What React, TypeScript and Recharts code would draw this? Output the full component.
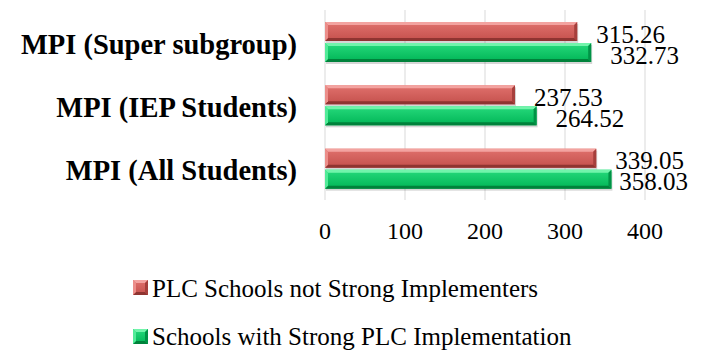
import { BarChart, Bar, XAxis, YAxis, CartesianGrid, LabelList } from "recharts";

const categories = ["MPI (Super subgroup)", "MPI (IEP Students)", "MPI (All Students)"];
const notStrongScores = [315.26, 237.53, 339.05];
const strongScores = [332.73, 264.52, 358.03];
const xTicks = [0, 100, 200, 300, 400];

const SERIF = "'Liberation Serif', 'Times New Roman', serif";

type Tone = "red" | "green";

const palettes: Record<Tone, { hi: string; lo: string; top: string; bottom: string; left: string; right: string }> = {
  red: { hi: "#e0716d", lo: "#c4504c", top: "#f3a3a0", bottom: "#8f3431", left: "#ec8e8a", right: "#a63f3c" },
  green: { hi: "#27da7c", lo: "#00b556", top: "#72f4ab", bottom: "#00823b", left: "#52eb98", right: "#009346" },
};

const series: { key: "notStrong" | "strong"; name: string; tone: Tone }[] = [
  { key: "notStrong", name: "PLC Schools not Strong Implementers", tone: "red" },
  { key: "strong", name: "Schools with Strong PLC Implementation", tone: "green" },
];

const data = categories.map((name, i) => ({
  name,
  notStrong: notStrongScores[i],
  strong: strongScores[i],
}));

// beveled "3D" block used for bars and legend swatches
function Bevel({ x, y, w, h, tone, b = 3, shadow = true }: { x: number; y: number; w: number; h: number; tone: Tone; b?: number; shadow?: boolean }) {
  const p = palettes[tone];
  const id = `grad-${tone}`;
  return (
    <g>
      <defs>
        <linearGradient id={id} x1="0" y1="0" x2="0" y2="1">
          <stop offset="0%" stopColor={p.hi} />
          <stop offset="100%" stopColor={p.lo} />
        </linearGradient>
      </defs>
      {shadow && <rect x={x + 1} y={y + 2} width={w} height={h} fill="#000" opacity={0.16} />}
      <rect x={x} y={y} width={w} height={h} fill={`url(#${id})`} />
      <polygon points={`${x},${y} ${x + w},${y} ${x + w - b},${y + b} ${x + b},${y + b}`} fill={p.top} />
      <polygon points={`${x},${y + h} ${x + w},${y + h} ${x + w - b},${y + h - b} ${x + b},${y + h - b}`} fill={p.bottom} />
      <polygon points={`${x + w},${y} ${x + w},${y + h} ${x + w - b},${y + h - b} ${x + w - b},${y + b}`} fill={p.right} />
      <polygon points={`${x},${y} ${x + b},${y + b} ${x + b},${y + h - b} ${x},${y + h}`} fill={p.left} />
    </g>
  );
}

const makeBarShape = (tone: Tone) => (props: any) => {
  const { x, y, width, height } = props;
  if (!width || width <= 0) return <g />;
  return <Bevel x={x} y={y} w={width} h={height} tone={tone} />;
};

const ValueLabel = (props: any) => {
  const { x, y, width, height, value } = props;
  const text = Number(value).toFixed(2);
  // keep the label inside the right edge
  const textWidth = text.length * 12.5 - 6.25;
  const tx = Math.min(x + width + 19, 688 - textWidth);
  return (
    <text x={tx} y={y + height / 2 + 11} fontFamily={SERIF} fontSize={25} fill="#000">
      {text}
    </text>
  );
};

const CategoryTick = ({ x, y, payload }: any) => (
  <text x={x} y={y + 12} textAnchor="end" fontFamily={SERIF} fontSize={28.5} fontWeight={700} fill="#000">
    {payload.value}
  </text>
);

const ValueTick = ({ x, y, payload }: any) => (
  <text x={x} y={y + 39} textAnchor="middle" fontFamily={SERIF} fontSize={24} fill="#000">
    {payload.value}
  </text>
);

export default function App() {
  return (
    <div style={{ position: "absolute", left: 0, top: 0, width: 704, height: 352, background: "#fff" }}>
      <BarChart
        width={704}
        height={352}
        data={data}
        layout="vertical"
        margin={{ top: 10, right: 59, bottom: 122, left: 0 }}
        barSize={19}
        barGap={2}
      >
        <CartesianGrid horizontal={false} stroke="#d9d9d9" />
        <XAxis
          type="number"
          domain={[0, 400]}
          ticks={xTicks}
          axisLine={false}
          tickLine={false}
          tickSize={0}
          tickMargin={0}
          height={30}
          tick={<ValueTick />}
        />
        <YAxis
          type="category"
          dataKey="name"
          width={325}
          axisLine={false}
          tickLine={false}
          tickSize={0}
          tickMargin={28}
          tick={<CategoryTick />}
        />
        {series.map((s) => (
          <Bar key={s.key} dataKey={s.key} name={s.name} shape={makeBarShape(s.tone)} isAnimationActive={false}>
            <LabelList dataKey={s.key} content={<ValueLabel />} />
          </Bar>
        ))}
      </BarChart>
      <svg width={704} height={92} style={{ position: "absolute", left: 0, top: 260 }}>
        {series.map((s, i) => (
          <g key={s.key}>
            <Bevel x={133} y={20 + i * 49} w={15} h={15} tone={s.tone} b={3} shadow={false} />
            <text x={152} y={37 + i * 48} fontFamily={SERIF} fontSize={25} fill="#000">
              {s.name}
            </text>
          </g>
        ))}
      </svg>
    </div>
  );
}
